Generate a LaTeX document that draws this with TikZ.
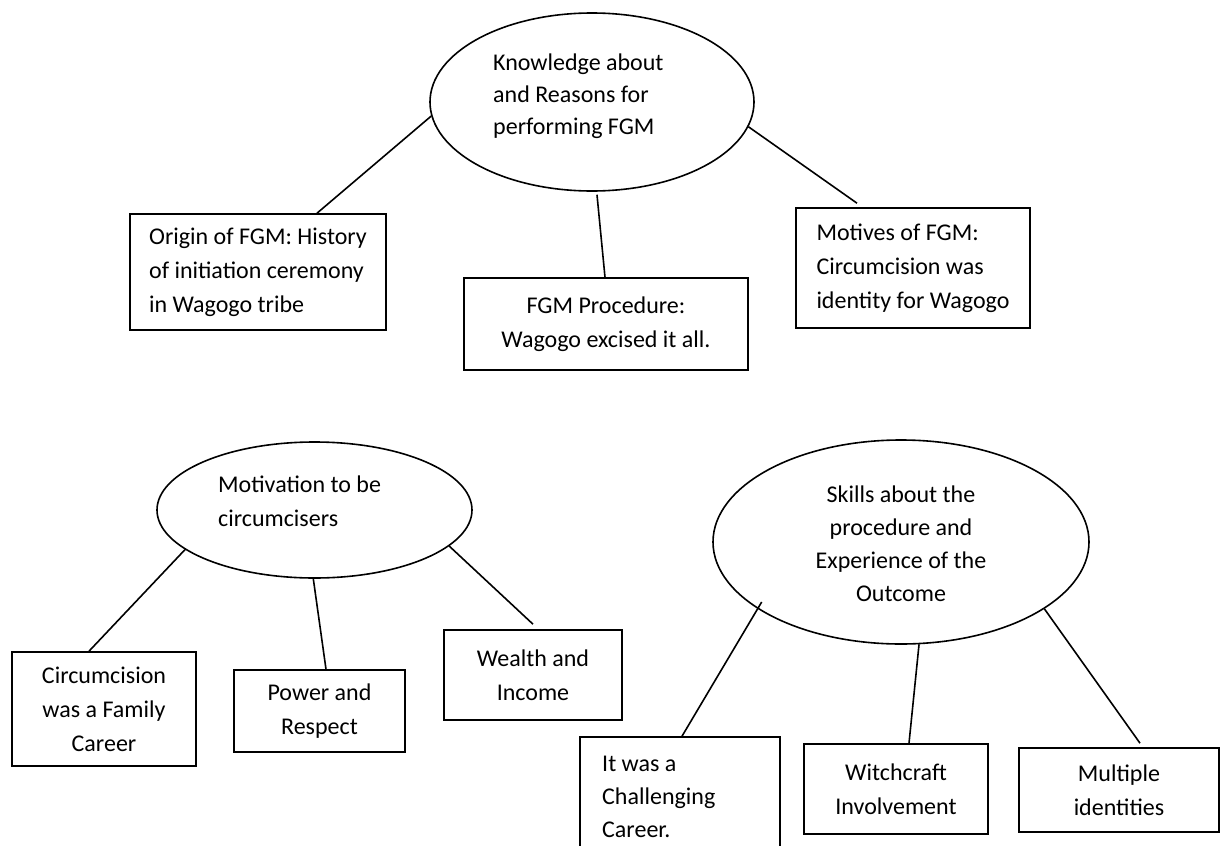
\documentclass[tikz,border=0pt]{standalone}
\usepackage{fontspec}
\setmainfont{Carlito}
\usetikzlibrary{shapes.geometric}
\begin{document}
\begin{tikzpicture}[x=1pt,y=-1pt,
  lbl/.style={font=\fontsize{24}{34}\selectfont, inner sep=0pt},
  bubble/.style={draw, ellipse, line width=1.6pt, inner sep=0pt},
  card/.style={draw, rectangle, line width=1.6pt, inner sep=0pt, font=\fontsize{24}{34}\selectfont},
  link/.style={line width=1.6pt}]
\useasboundingbox (0,0) rectangle (1227,846);
\clip (0,0) rectangle (1227,846);
\fill[white] (0,0) rectangle (1227,846);

% Knowledge and reasons
\node[bubble, minimum width=324pt, minimum height=178pt] (know) at (592,102) {};
\node[lbl, font=\fontsize{24}{32}\selectfont, anchor=west, align=left] (knowtext) at (493,96.5)
  {Knowledge about\\and Reasons for\\performing FGM};
\node[card, minimum width=256pt, minimum height=116pt, align=left] (origin) at (258,272)
  {Origin of FGM: History\\of initiation ceremony\\in Wagogo tribe};
\node[card, minimum width=284pt, minimum height=92pt, align=center] (proc) at (606,324)
  {FGM Procedure:\\Wagogo excised it all.};
\node[card, minimum width=234pt, minimum height=120pt, align=left] (motive) at (913,268)
  {Motives of FGM:\\Circumcision was\\identity for Wagogo};
\draw[link] (know.185) -- ([xshift=59pt]origin.north);
\draw[link, shorten <=3pt] (know.273) -- ([xshift=-1pt]proc.north);
\draw[link] (know.351) -- ([xshift=-56pt,yshift=4pt]motive.north);

% Motivation
\node[bubble, minimum width=315pt, minimum height=136pt] (motiv) at (314.5,510) {};
\node[lbl, anchor=west, align=left] (motivtext) at (218,501) {Motivation to be\\circumcisers};
\node[card, minimum width=184pt, minimum height=114pt, align=center] (family) at (104,709)
  {Circumcision\\was a Family\\Career};
\node[card, minimum width=171pt, minimum height=82pt, align=center] (power) at (319.5,711)
  {Power and\\Respect};
\node[card, minimum width=178pt, minimum height=90pt, align=center] (wealth) at (533,675)
  {Wealth and\\Income};
\draw[link] (motiv.197) -- ([xshift=-15pt]family.north);
\draw[link] (motiv.269) -- ([xshift=6.5pt]power.north);
\draw[link] (motiv.345) -- ([yshift=5pt]wealth.north);

% Skills and experience
\node[bubble, minimum width=376pt, minimum height=204pt] (skill) at (901,542) {};
\node[lbl, font=\fontsize{24}{33}\selectfont, align=center] (skilltext) at (901,544)
  {Skills about the\\procedure and\\Experience of the\\Outcome};
\node[card, minimum width=200pt, minimum height=125pt] (challenge) at (680,799.5) {};
\node[lbl, font=\fontsize{24}{33}\selectfont, anchor=west, align=left] (challengetext) at (602,797)
  {It was a\\Challenging\\Career.};
\node[card, minimum width=184pt, minimum height=90pt, align=center] (witch) at (896,789)
  {Witchcraft\\Involvement};
\node[card, minimum width=200pt, minimum height=84pt, align=center] (multi) at (1119,790)
  {Multiple\\identities};
\draw[link, shorten <=-8pt] (skill.205) -- ([xshift=2pt]challenge.north);
\draw[link] (skill.280) -- ([xshift=13pt]witch.north);
\draw[link] (skill.335) -- ([xshift=21pt,yshift=4pt]multi.north);
\end{tikzpicture}
\end{document}
